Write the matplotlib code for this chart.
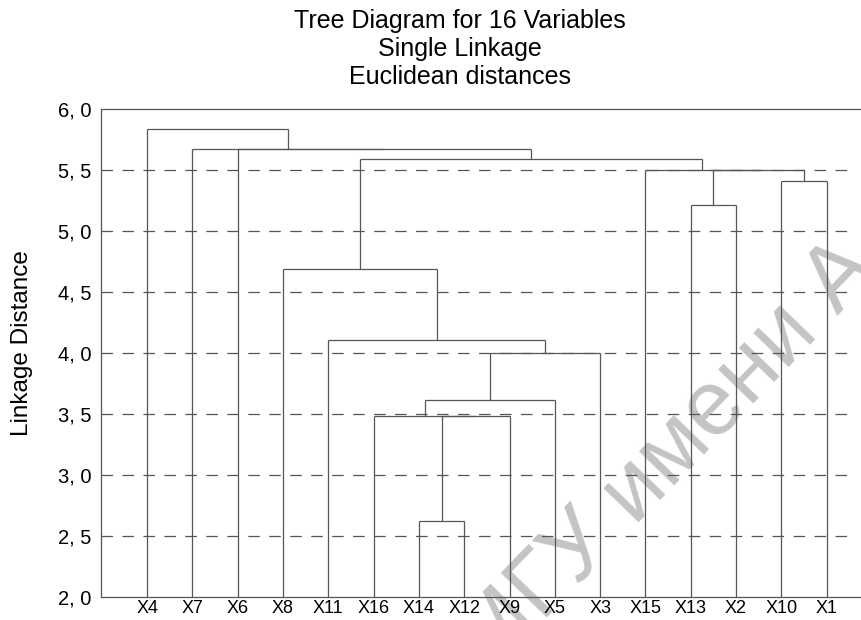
import matplotlib
matplotlib.use("Agg")
import matplotlib.pyplot as plt

plt.rcParams['font.family'] = ['Liberation Sans', 'DejaVu Sans']
plt.rcParams['lines.scale_dashes'] = False

# ---- data ----
leaves = ['X4', 'X7', 'X6', 'X8', 'X11', 'X16', 'X14', 'X12',
          'X9', 'X5', 'X3', 'X15', 'X13', 'X2', 'X10', 'X1']
merge_left = ['X14', 'M0', 'X16', 'M2', 'M3', 'X11', 'X8',
              'X13', 'X10', 'M7', 'X15', 'M6', 'X6', 'X7', 'X4']
merge_right = ['X12', 'X9', 'M1', 'X5', 'X3', 'M4', 'M5',
               'X2', 'X1', 'M8', 'M9', 'M10', 'M11', 'M12', 'M13']
merge_height = [2.62, 3.48, 3.48, 3.615, 4.0, 4.11, 4.69,
                5.21, 5.41, 5.50, 5.50, 5.59, 5.67, 5.67, 5.84]
y_ticks = [2.0, 2.5, 3.0, 3.5, 4.0, 4.5, 5.0, 5.5, 6.0]

title = "Tree Diagram for 16 Variables\nSingle Linkage\nEuclidean distances"
ylabel = "Linkage Distance"
watermark = "МГУ имени А"

W, H = 861, 620
fig = plt.figure(figsize=(W / 100, H / 100), dpi=100)
ax = fig.add_axes([101 / W, 23 / H, 760 / W, 488 / H])
ax.patch.set_visible(False)

ymin, ymax = y_ticks[0], y_ticks[-1]
ax.set_xlim(-1.02, 15.76)
ax.set_ylim(ymin, ymax)

line_col = '#555555'

# positions / heights of nodes
pos = {name: float(i) for i, name in enumerate(leaves)}
hgt = {name: ymin for name in leaves}
for k, (a, b, h) in enumerate(zip(merge_left, merge_right, merge_height)):
    xa, xb = pos[a], pos[b]
    ax.plot([xa, xa], [hgt[a], h], color=line_col, lw=0.9, solid_capstyle='butt', zorder=3)
    ax.plot([xb, xb], [hgt[b], h], color=line_col, lw=0.9, solid_capstyle='butt', zorder=3)
    ax.plot([xa, xb], [h, h], color=line_col, lw=0.9, solid_capstyle='butt', zorder=3)
    name = 'M%d' % k
    pos[name] = (xa + xb) / 2
    hgt[name] = h

# dashed grid lines
for t in y_ticks[1:-1]:
    ax.plot([-1.02, 15.56], [t, t], color='#555555', lw=0.9,
            linestyle=(0, (8.3, 6.8)), zorder=2)

# spines
for s in ['left', 'top', 'bottom']:
    ax.spines[s].set_color('#555555')
    ax.spines[s].set_linewidth(0.9)
ax.spines['right'].set_visible(False)

ax.set_xticks(range(len(leaves)))
ax.set_xticklabels(leaves, fontsize=13)
ax.set_yticks(y_ticks)
ax.set_yticklabels([("%.1f" % t).replace('.', ', ') for t in y_ticks], fontsize=14.5)
ax.tick_params(axis='x', length=0, pad=2)
ax.tick_params(axis='y', length=0, pad=7)

ax.set_ylabel(ylabel, fontsize=17.5)
ax.yaxis.set_label_coords(-0.089, 0.52)

fig.text(460 / W, 1 - 9 / H, title, ha='center', va='top', fontsize=18,
         linespacing=1.2)

fig.text(668 / W, 1 - 458 / H, watermark, ha='center', va='center', rotation=46,
         rotation_mode='anchor', fontsize=66, color='#c4c4c4', zorder=-1)

fig.savefig('out.png', dpi=100)
